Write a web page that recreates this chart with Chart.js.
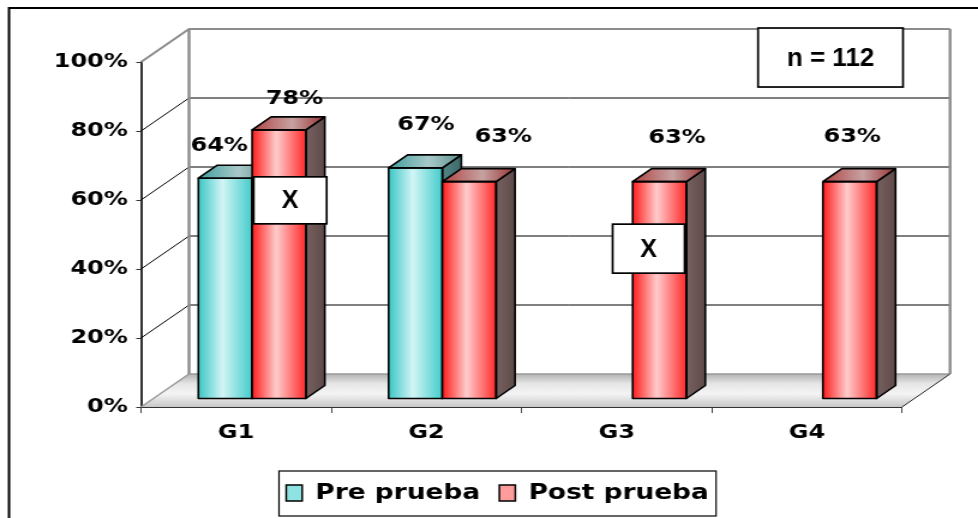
<!DOCTYPE html>
<html>
<head>
<meta charset="utf-8">
<script src="https://cdn.jsdelivr.net/npm/chart.js@4"></script>
<style>
  html, body { margin: 0; padding: 0; background: #fff; overflow: hidden; }
  #c { display: block; }
</style>
</head>
<body>
<canvas id="c" width="815" height="518" style="width:978px;height:518px"></canvas>
<script>
// ---- data ----
const categories = ['G1', 'G2', 'G3', 'G4'];
const seriesNames = ['Pre prueba', 'Post prueba'];
const preValues = [64, 67, null, null];
const postValues = [78, 63, 63, 63];
const yTicks = [0, 20, 40, 60, 80, 100];
const noteText = 'n = 112';
const markText = 'X';

// ---- look & layout (canvas units; the canvas is shown 1.2x wider) ----
const SX = 978 / 815;
const WALL = { dx: 40, dy: -33 };     // back wall relative to the front axes
const ROW = { dx: 13.3, dy: -8 };     // plane the bars stand on
const DEPTH = { dx: 15.8, dy: -13 };  // bar thickness
const LABEL_RISE = 31;
const labelNudge = [
  [[-12.9, 12], [0.8, 1], null, null],
  [[5, 13], [20.4, -1], [6.7, 0], [-5.8, -1]]
];
// "X" boxes and the sample-size note, placed in (category index, percent) space
const markBoxes = [{ at: [0.284, 59.9], w: 60.8, h: 47 }, { at: [2.168, 45.9], w: 60, h: 49 }];
const noteBox = { at: [3.124, 101.3], w: 120.8, h: 59 };

const skins = [
  { front: ['#3cc6c6', '#d2f5f5', '#44cccc'], top: ['#3f9e9e', '#a9c9c9', '#5f8f8f'], side: ['#548585', '#3e6a6a'], swatch: '#8fe2e2' },
  { front: ['#ff1c1c', '#ffcccc', '#ff2a2a'], top: ['#b04444', '#c7a2a2', '#983434'], side: ['#776262', '#5f4949'], swatch: '#ff9c9c' }
];

const boldDV = (size) => ({ family: '"DejaVu Sans", Verdana, sans-serif', size, weight: 'bold' });

function drawBar(ctx, l, r, t, b, skin) {
  const fg = ctx.createLinearGradient(l, 0, r, 0);
  fg.addColorStop(0, skin.front[0]); fg.addColorStop(0.45, skin.front[1]); fg.addColorStop(1, skin.front[2]);
  ctx.fillStyle = fg;
  ctx.fillRect(l, t, r - l, b - t);

  ctx.beginPath();
  ctx.moveTo(r, t); ctx.lineTo(r + DEPTH.dx, t + DEPTH.dy);
  ctx.lineTo(r + DEPTH.dx, b + DEPTH.dy); ctx.lineTo(r, b); ctx.closePath();
  const sg = ctx.createLinearGradient(r, 0, r + DEPTH.dx, 0);
  sg.addColorStop(0, skin.side[0]); sg.addColorStop(1, skin.side[1]);
  ctx.fillStyle = sg; ctx.fill();
  ctx.stroke();

  ctx.beginPath();
  ctx.moveTo(l, t); ctx.lineTo(r, t);
  ctx.lineTo(r + DEPTH.dx, t + DEPTH.dy); ctx.lineTo(l + DEPTH.dx, t + DEPTH.dy); ctx.closePath();
  const tg = ctx.createLinearGradient(l, 0, r + DEPTH.dx, 0);
  tg.addColorStop(0, skin.top[0]); tg.addColorStop(0.55, skin.top[1]); tg.addColorStop(1, skin.top[2]);
  ctx.fillStyle = tg; ctx.fill();
  ctx.stroke();

  ctx.strokeRect(l, t, r - l, b - t);
}

function textBox(ctx, cx, cy, w, h, text, size) {
  ctx.fillStyle = '#fff';
  ctx.fillRect(cx - w / 2, cy - h / 2, w, h);
  ctx.strokeStyle = '#000';
  ctx.lineWidth = 1.7;
  ctx.strokeRect(cx - w / 2, cy - h / 2, w, h);
  ctx.save();
  ctx.translate(cx, cy);
  ctx.scale(1 / SX, 1);
  ctx.fillStyle = '#000';
  ctx.font = 'bold ' + size + 'px "Liberation Sans", Arial, sans-serif';
  ctx.textAlign = 'center';
  ctx.textBaseline = 'middle';
  ctx.fillText(text, 0, 1);
  ctx.restore();
}

const scene = {
  id: 'scene',
  beforeDraw(chart) {
    const { ctx } = chart;
    ctx.save();
    ctx.strokeStyle = '#000';
    ctx.lineWidth = 2;
    ctx.beginPath();
    ctx.moveTo(7.5, 530); ctx.lineTo(7.5, 8); ctx.lineTo(830, 8);
    ctx.stroke();
    ctx.restore();
  },
  beforeDatasetsDraw(chart) {
    const { ctx, chartArea: a, scales: { y } } = chart;
    const y0 = y.getPixelForValue(0);
    const yTop = y.getPixelForValue(100);
    ctx.save();
    // floor
    const fl = ctx.createLinearGradient(0, y0 + WALL.dy, 0, y0);
    fl.addColorStop(0, '#b4b4b4'); fl.addColorStop(0.3, '#e6e6e6');
    fl.addColorStop(0.6, '#f4f4f4'); fl.addColorStop(1, '#c8c8c8');
    ctx.beginPath();
    ctx.moveTo(a.left, y0); ctx.lineTo(a.right, y0);
    ctx.lineTo(a.right + WALL.dx, y0 + WALL.dy); ctx.lineTo(a.left + WALL.dx, y0 + WALL.dy);
    ctx.closePath();
    ctx.fillStyle = fl; ctx.fill();
    ctx.strokeStyle = '#9a9a9a'; ctx.lineWidth = 1.5;
    ctx.beginPath();
    ctx.moveTo(a.left, y0); ctx.lineTo(a.left + WALL.dx, y0 + WALL.dy);
    ctx.lineTo(a.right + WALL.dx, y0 + WALL.dy);
    ctx.stroke();
    ctx.strokeStyle = '#222'; ctx.lineWidth = 1;
    ctx.beginPath();
    ctx.moveTo(a.right, y0); ctx.lineTo(a.right + WALL.dx, y0 + WALL.dy);
    ctx.stroke();

    // back wall grid and the matching lines on the side wall
    yTicks.forEach(v => {
      if (v === 0) return;
      const py = y.getPixelForValue(v);
      const edge = v === yTicks[yTicks.length - 1];
      ctx.strokeStyle = edge ? '#8c8c8c' : '#000';
      ctx.lineWidth = edge ? 2 : 1;
      ctx.beginPath();
      ctx.moveTo(a.left, py);
      ctx.lineTo(a.left + WALL.dx, py + WALL.dy);
      ctx.lineTo(a.right + WALL.dx, py + WALL.dy);
      ctx.stroke();
    });
    // wall edges
    ctx.strokeStyle = '#8c8c8c'; ctx.lineWidth = 2.4;
    ctx.beginPath();
    ctx.moveTo(a.left + WALL.dx, yTop + WALL.dy); ctx.lineTo(a.left + WALL.dx, y0 + WALL.dy);
    ctx.moveTo(a.right + WALL.dx, yTop + WALL.dy); ctx.lineTo(a.right + WALL.dx, y0 + WALL.dy);
    ctx.stroke();
    ctx.restore();

    ctx.save();
    ctx.translate(ROW.dx, ROW.dy);
  },
  afterDatasetsDraw(chart) {
    const { ctx, scales: { x, y } } = chart;
    const series = [preValues, postValues];
    const metas = series.map((_, d) => chart.getDatasetMeta(d));

    // 3D bodies, drawn per category from left to right
    ctx.strokeStyle = '#000';
    ctx.lineWidth = 1.6;
    ctx.lineJoin = 'round';
    categories.forEach((_, i) => {
      metas.forEach((meta, d) => {
        if (series[d][i] == null) return;
        const p = meta.data[i].getProps(['x', 'y', 'base', 'width'], true);
        drawBar(ctx, p.x - p.width / 2, p.x + p.width / 2, p.y, p.base, skins[d]);
      });
    });
    ctx.restore();

    // value labels
    ctx.save();
    ctx.fillStyle = '#000';
    ctx.font = 'bold 20px "DejaVu Sans", Verdana, sans-serif';
    ctx.textAlign = 'center';
    ctx.textBaseline = 'middle';
    metas.forEach((meta, d) => {
      series[d].forEach((v, i) => {
        if (v == null) return;
        const p = meta.data[i].getProps(['x', 'y'], true);
        const n = labelNudge[d][i] || [0, 0];
        const lx = p.x + ROW.dx + DEPTH.dx / 2 + n[0];
        const ly = p.y + ROW.dy + DEPTH.dy - LABEL_RISE + n[1];
        ctx.fillText(v + '%', lx, ly);
      });
    });

    markBoxes.forEach(b => {
      textBox(ctx, x.getPixelForValue(b.at[0]), y.getPixelForValue(b.at[1]), b.w, b.h, markText, 25);
    });
    textBox(ctx, x.getPixelForValue(noteBox.at[0]), y.getPixelForValue(noteBox.at[1]), noteBox.w, noteBox.h, noteText, 26);
    ctx.restore();
  },
  afterDraw(chart) {
    const lg = chart.legend;
    const hb = lg.legendHitBoxes;
    if (!hb || !hb.length) return;
    const { ctx } = chart;
    const last = hb[hb.length - 1];
    const l = hb[0].left - 6;
    const r = last.left + last.width + 6;
    ctx.save();
    ctx.strokeStyle = '#000';
    ctx.lineWidth = 1.2;
    ctx.strokeRect(l, lg.top + 5, r - l, 45);
    ctx.restore();
  }
};

new Chart(document.getElementById('c'), {
  type: 'bar',
  data: {
    labels: categories,
    datasets: [preValues, postValues].map((vals, d) => ({
      label: seriesNames[d],
      data: vals,
      backgroundColor: skins[d].swatch,
      borderColor: '#000',
      borderWidth: 1.5,
      categoryPercentage: 0.565,
      barPercentage: 1
    }))
  },
  options: {
    responsive: false,
    animation: false,
    devicePixelRatio: 1,
    layout: { padding: { left: 14.2, right: 0, top: 62, bottom: 4 } },
    plugins: {
      tooltip: { enabled: false },
      legend: {
        position: 'bottom',
        labels: {
          font: boldDV(22),
          color: '#000',
          boxWidth: 13.3,
          boxHeight: 16,
          padding: 16
        }
      }
    },
    scales: {
      x: {
        grid: { drawOnChartArea: false, offset: true, tickLength: 6, color: '#444' },
        border: { color: '#333', width: 2 },
        ticks: { font: boldDV(20), color: '#000', padding: 8 },
        afterFit: s => { s.height = 59; }
      },
      y: {
        min: 0,
        max: 100,
        afterBuildTicks: s => { s.ticks = yTicks.map(v => ({ value: v })); },
        ticks: { font: boldDV(20), color: '#000', padding: 7, callback: v => v + '%' },
        grid: { drawOnChartArea: false, tickLength: 4, color: '#333' },
        border: { color: '#333', width: 2 },
        afterFit: s => { s.width = 103.3; }
      },
      // empty strip on the right that leaves room for the wall depth
      yRight: {
        position: 'right',
        min: 0,
        max: 100,
        ticks: { display: false },
        grid: { display: false, drawTicks: false },
        border: { display: false },
        afterFit: s => { s.width = 63.3; }
      }
    }
  },
  plugins: [scene]
});
</script>
</body>
</html>
